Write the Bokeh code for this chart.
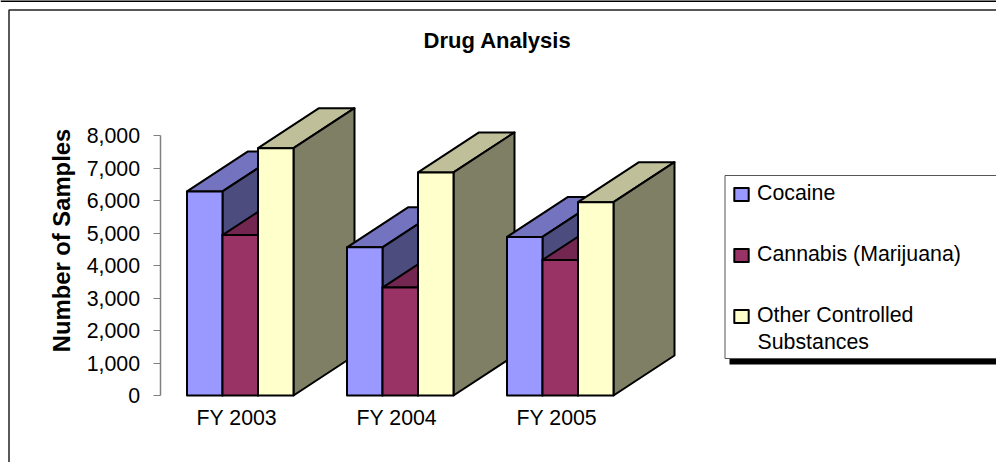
from math import pi
from bokeh.embed import file_html
from bokeh.resources import INLINE
from bokeh.plotting import figure
from bokeh.models import Range1d, LinearAxis, FixedTicker, NumeralTickFormatter, Legend, LegendItem

categories = ["FY 2003", "FY 2004", "FY 2005"]
cocaine = [6280, 4560, 4880]
cannabis = [4935, 3320, 4170]
other = [7610, 6865, 5950]
series_names = ["Cocaine", "Cannabis (Marijuana)", "Other Controlled"]
series_name_wrap = "Substances"
y_ticks = [0, 1000, 2000, 3000, 4000, 5000, 6000, 7000, 8000]

FRONT = ["#9999FF", "#993366", "#FFFFCC"]
TOP = ["#7373BF", "#732650", "#BFBF99"]
SIDE = ["#4C4C7F", "#4C1933", "#7F7F66"]

W, H = 996, 462
PX_X = 160.0          # pixels per category
PX_Y = 260.0 / 8000   # pixels per sample
X0, Y0 = 159.5, 395.0 # pixel position of the axes origin


def dx(px):
    return (px - X0) / PX_X


def dy(py):
    return (Y0 - py) / PX_Y


p = figure(width=W, height=H, output_backend="svg", toolbar_location=None,
           x_range=Range1d(dx(0), dx(W)), y_range=Range1d(dy(H), dy(0)),
           min_border=0, x_axis_type=None, y_axis_type=None,
           margin=(0, 0, 0, 0))
p.grid.visible = False
p.outline_line_color = None
p.background_fill_color = "white"
p.border_fill_color = "white"

# page frame and rule
p.segment(x0=[dx(0)], y0=[dy(0.5)], x1=[dx(W)], y1=[dy(0.5)], line_color="black", line_width=2)
p.line(x=[dx(W), dx(8.5), dx(8.5)], y=[dy(9.5), dy(9.5), dy(H + 5)],
       line_color="#222222", line_width=1.5)

# legend box and shadow
p.quad(left=[dx(729)], right=[dx(W)], top=[dy(358)], bottom=[dy(364)], fill_color="black", line_color=None)
p.quad(left=[dx(724.5)], right=[dx(W + 5)], top=[dy(175)], bottom=[dy(358)],
       fill_color="white", line_color="#555555", line_width=1)

BAR = 35.5 / PX_X
GROUP_PAD = 27.0 / PX_X
DEPTH_X = 61.0 / PX_X
DEPTH_Y = 40.0 / PX_Y
line = dict(line_color="black", line_width=2, line_join="round")

legend_renderers = [None, None, None]
for g in range(len(categories)):
    values = [cocaine[g], cannabis[g], other[g]]
    for s, v in enumerate(values):
        l = g + GROUP_PAD + s * BAR
        r = l + BAR
        p.patch([l, r, r + DEPTH_X, l + DEPTH_X], [v, v, v + DEPTH_Y, v + DEPTH_Y], fill_color=TOP[s], **line)
        p.patch([r, r + DEPTH_X, r + DEPTH_X, r], [0, DEPTH_Y, v + DEPTH_Y, v], fill_color=SIDE[s], **line)
        q = p.quad(left=[l], right=[r], bottom=[0], top=[v], fill_color=FRONT[s], **line)
        if legend_renderers[s] is None:
            legend_renderers[s] = q

yaxis = LinearAxis(fixed_location=dx(X0), bounds=(0, 8000), ticker=FixedTicker(ticks=y_ticks),
                   formatter=NumeralTickFormatter(format="0,0"),
                   axis_line_color="#808080", axis_line_width=1.5, major_tick_line_color="#808080",
                   major_tick_in=0, major_tick_out=7, minor_tick_line_color=None,
                   major_label_text_font="Liberation Sans", major_label_text_font_size="21.33px",
                   major_label_text_color="black", major_label_standoff=13)
p.add_layout(yaxis, "left")

xaxis = LinearAxis(fixed_location=0, ticker=FixedTicker(ticks=[0.48, 1.48, 2.48]),
                   major_label_overrides={0.48: categories[0], 1.48: categories[1], 2.48: categories[2]},
                   axis_line_color=None, major_tick_line_color=None, minor_tick_line_color=None,
                   major_label_text_font="Liberation Sans", major_label_text_font_size="21.33px",
                   major_label_text_color="black", major_label_standoff=4)
p.add_layout(xaxis, "below")

p.text(x=[dx(497)], y=[dy(40)], text=["Drug Analysis"], text_font={"value": "Liberation Sans"},
       text_font_size={"value": "22px"}, text_font_style="bold", text_color="black",
       text_align="center", text_baseline="middle")

p.text(x=[dx(61)], y=[dy(240)], text=["Number of Samples"], angle=[pi / 2], text_font={"value": "Liberation Sans"},
       text_font_size={"value": "23.8px"}, text_font_style="bold", text_color="black",
       text_align="center", text_baseline="middle")

p.text(x=[dx(757)], y=[dy(341)], text=[series_name_wrap], text_font={"value": "Liberation Sans"},
       text_font_size={"value": "21.33px"}, text_color="black", text_align="left", text_baseline="middle")

legend = Legend(items=[LegendItem(label=n, renderers=[r]) for n, r in zip(series_names, legend_renderers)],
                location=(732, 462 - 328), orientation="vertical",
                border_line_color=None, background_fill_alpha=0,
                label_text_font="Liberation Sans", label_text_font_size="21.33px", label_text_color="black",
                label_standoff=7, glyph_width=18, glyph_height=16, spacing=36, padding=10, margin=0)
p.add_layout(legend)

open("out.html", "w").write(file_html(p, INLINE))
